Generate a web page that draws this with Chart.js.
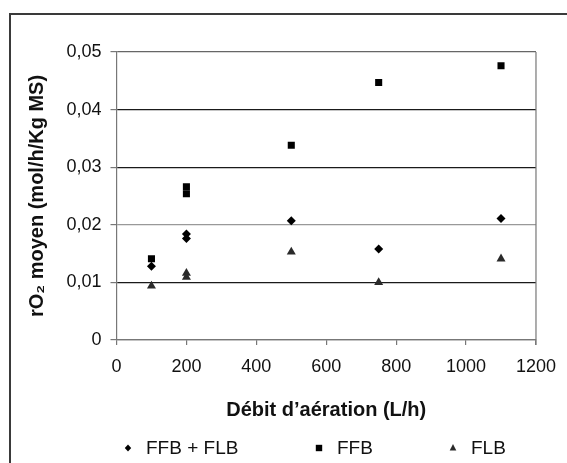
<!DOCTYPE html>
<html>
<head>
<meta charset="utf-8">
<script src="https://cdn.jsdelivr.net/npm/chart.js@4/dist/chart.umd.min.js"></script>
<style>
html,body{margin:0;padding:0;background:#fff;}
#wrap{position:relative;width:567px;height:463px;}
</style>
</head>
<body>
<div id="wrap"><canvas id="c" width="567" height="463"></canvas></div>
<script>
const seriesNames = ['FFB + FLB', 'FFB', 'FLB'];
const ffbFlbX = [100, 200, 200, 500, 750, 1100];
const ffbFlbY = [0.0128, 0.0184, 0.0176, 0.0207, 0.0158, 0.0211];
const ffbX = [100, 200, 200, 500, 750, 1100];
const ffbY = [0.0141, 0.0266, 0.0254, 0.0338, 0.0447, 0.0476];
const flbX = [100, 200, 200, 500, 750, 1100];
const flbY = [0.0094, 0.0116, 0.0109, 0.0153, 0.0100, 0.0141];
const xTicks = [0, 200, 400, 600, 800, 1000, 1200];
const yTicks = [0, 0.01, 0.02, 0.03, 0.04, 0.05];
const xTitle = 'Débit d\u2019aération (L/h)';
const yTitle = 'rO\u2082 moyen (mol/h/Kg MS)';

const pts = (xs, ys) => xs.map((x, i) => ({x: x, y: ys[i]}));
const FONT = "'Liberation Sans', Arial, sans-serif";

const framePlugin = {
  id: 'frame',
  beforeDraw(chart) {
    const ctx = chart.ctx;
    ctx.save();
    ctx.strokeStyle = '#3a3a3a';
    ctx.lineWidth = 2;
    ctx.beginPath();
    ctx.moveTo(10, 463);
    ctx.lineTo(10, 14);
    ctx.lineTo(567, 14);
    ctx.stroke();
    ctx.restore();
  },
  afterDraw(chart) {
    const ctx = chart.ctx;
    const a = chart.chartArea;
    ctx.save();
    ctx.strokeStyle = '#777';
    ctx.lineWidth = 1.2;
    ctx.beginPath();
    ctx.moveTo(a.right, a.top);
    ctx.lineTo(a.right, a.bottom + 5);
    ctx.stroke();
    // legend
    const markerX = [128, 319, 453];
    const y = 448;
    ctx.font = '19px ' + FONT;
    ctx.textBaseline = 'middle';
    ctx.textAlign = 'left';
    chart.data.datasets.forEach((ds, i) => {
      const mx = markerX[i];
      ctx.fillStyle = ds.backgroundColor;
      ctx.beginPath();
      if (ds.pointStyle === 'rectRot') {
        ctx.moveTo(mx, y - 3.5); ctx.lineTo(mx + 3.2, y); ctx.lineTo(mx, y + 3.5); ctx.lineTo(mx - 3.2, y); ctx.closePath();
      } else if (ds.pointStyle === 'rect') {
        ctx.rect(mx - 3.2, y - 3.2, 6.4, 6.4);
      } else {
        ctx.moveTo(mx, y - 4); ctx.lineTo(mx + 3.3, y + 2.5); ctx.lineTo(mx - 3.3, y + 2.5); ctx.closePath();
      }
      ctx.fill();
      ctx.fillStyle = '#111';
      ctx.fillText(ds.label, mx + 18, y + 1);
    });
    ctx.restore();
  }
};

new Chart(document.getElementById('c'), {
  type: 'scatter',
  data: {
    datasets: [
      {label: seriesNames[0], data: pts(ffbFlbX, ffbFlbY), pointStyle: 'rectRot', pointRadius: 4.5, backgroundColor: '#000', borderColor: '#000', borderWidth: 0},
      {label: seriesNames[1], data: pts(ffbX, ffbY), pointStyle: 'rect', pointRadius: 5, backgroundColor: '#000', borderColor: '#000', borderWidth: 0},
      {label: seriesNames[2], data: pts(flbX, flbY), pointStyle: 'triangle', pointRadius: 5.2, backgroundColor: '#2a2a2a', borderColor: '#2a2a2a', borderWidth: 0}
    ]
  },
  options: {
    responsive: false,
    animation: false,
    devicePixelRatio: 1,
    layout: {padding: {top: 52, right: 22, left: 0, bottom: 0}},
    plugins: {legend: {display: false}, tooltip: {enabled: false}},
    scales: {
      x: {
        type: 'linear', min: xTicks[0], max: xTicks[xTicks.length - 1],
        afterFit(s) { s.height = 123; },
        afterBuildTicks(s) { s.ticks = xTicks.map(v => ({value: v})); },
        ticks: {font: {family: FONT, size: 18}, color: '#111', padding: 11, maxRotation: 0,
                callback: v => String(v)},
        grid: {drawOnChartArea: false, drawTicks: true, tickLength: 5, color: '#777', lineWidth: 1.2},
        border: {display: true, color: '#777', width: 1.2},
        title: {display: true, text: xTitle, font: {family: FONT, size: 20, weight: 'bold'}, color: '#111',
                padding: {top: 0, bottom: 41}}
      },
      y: {
        type: 'linear', min: yTicks[0], max: yTicks[yTicks.length - 1],
        afterFit(s) { s.width = 116.5; },
        afterBuildTicks(s) { s.ticks = yTicks.map(v => ({value: v})); },
        ticks: {font: {family: FONT, size: 18}, color: '#111', padding: 9,
                callback: v => v === 0 ? '0' : v.toFixed(2).replace('.', ',')},
        grid: {drawOnChartArea: true, drawTicks: true, tickLength: 6,
               color: ctx => {
                 const v = ctx.tick ? ctx.tick.value : 0;
                 if (Math.abs(v - 0.05) < 1e-6) return '#666';
                 if (Math.abs(v - 0.02) < 1e-6) return '#999';
                 if (v === 0) return '#777';
                 return '#1a1a1a';
               },
               tickColor: '#777',
               lineWidth: 1.2},
        border: {display: true, color: '#777', width: 1.2},
        title: {display: true, text: yTitle, font: {family: FONT, size: 20, weight: 'bold'}, color: '#111',
                padding: {top: 25, bottom: 0}}
      }
    }
  },
  plugins: [framePlugin]
});
</script>
</body>
</html>
